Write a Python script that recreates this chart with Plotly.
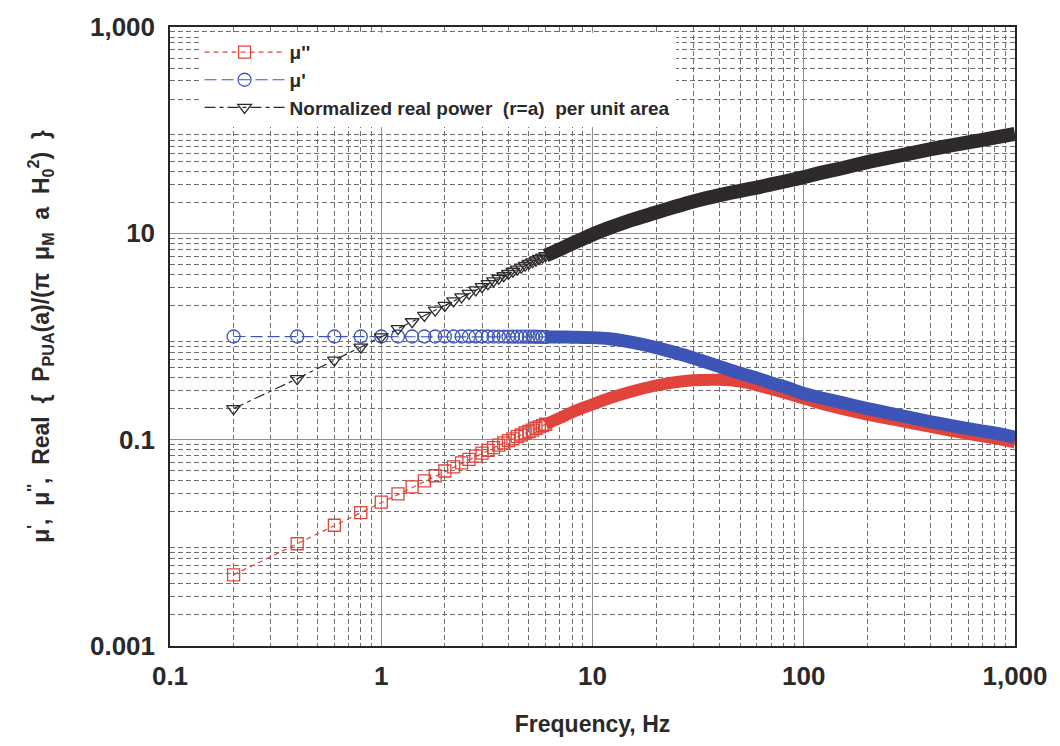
import plotly.graph_objects as go

# Frequencies (Hz) of the individually visible samples, 0.2 Hz apart
freq_markers = [0.2, 0.4, 0.6, 0.8, 1.0, 1.2, 1.4, 1.6, 1.8, 2.0,
                2.2, 2.4, 2.6, 2.8, 3.0, 3.2, 3.4, 3.6, 3.8, 4.0,
                4.2, 4.4, 4.6, 4.8, 5.0, 5.2, 5.4, 5.6, 5.8, 6.0]
# mu'' (loss component)
mu_loss_markers = [0.0049, 0.0098, 0.0148, 0.0196, 0.0248, 0.0298, 0.0348, 0.0398, 0.0447, 0.0497,
                   0.0546, 0.0595, 0.0644, 0.0692, 0.074, 0.0788, 0.0836, 0.0884, 0.093, 0.0977,
                   0.102, 0.107, 0.111, 0.116, 0.120, 0.124, 0.129, 0.133, 0.137, 0.141]
# mu' (real component)
mu_real_markers = [1.0, 1.0, 1.0, 1.0, 1.0, 1.0, 1.0, 1.0, 1.0, 1.0,
                   1.0, 1.0, 1.0, 1.0, 1.0, 1.0, 0.999, 0.999, 0.999, 0.998,
                   0.998, 0.997, 0.997, 0.996, 0.996, 0.995, 0.994, 0.993, 0.992, 0.99]
# normalized real power per unit area
power_markers = [0.2, 0.39, 0.59, 0.79, 0.99, 1.19, 1.39, 1.6, 1.8, 2.0,
                 2.21, 2.42, 2.62, 2.83, 3.04, 3.25, 3.46, 3.67, 3.88, 4.08,
                 4.29, 4.5, 4.7, 4.9, 5.1, 5.3, 5.5, 5.7, 5.88, 6.08]

# Above ~6 Hz the samples merge into a continuous band
freq_band = [6, 7, 8, 9, 10, 12, 15, 20, 25, 30, 40, 50, 60, 70, 85,
             100, 120, 150, 200, 250, 300, 400, 500, 600, 800, 1000]
mu_loss_band = [0.141, 0.162, 0.184, 0.203, 0.22, 0.252, 0.29, 0.335, 0.362, 0.376, 0.38, 0.365, 0.338, 0.31, 0.277,
                0.25, 0.224, 0.2, 0.175, 0.16, 0.149, 0.133, 0.122, 0.114, 0.103, 0.094]
mu_real_band = [0.99, 0.99, 0.985, 0.98, 0.975, 0.95, 0.885, 0.78, 0.69, 0.62, 0.51, 0.44, 0.395, 0.355, 0.315,
                0.28, 0.255, 0.23, 0.2, 0.182, 0.168, 0.149, 0.137, 0.128, 0.116, 0.106]
power_band = [6.08, 7.0, 7.95, 8.85, 9.75, 11.3, 13.3, 15.9, 18.3, 20.4, 23.5, 25.8, 27.8, 29.8, 32.5,
              35, 38.5, 42.5, 49, 53.8, 58, 65.5, 71.2, 76, 84.5, 92]

x_tick_values = [0.1, 1, 10, 100, 1000]
x_tick_labels = ["0.1", "1", "10", "100", "1,000"]
y_tick_values = [0.001, 0.1, 10, 1000]
y_tick_labels = ["0.001", "0.1", "10", "1,000"]
y_unlabelled_decades = [0.01, 1, 100]

series = [
    dict(name="μ''", color="#e0443a", symbol="square-open", size=12,
         dash="5px,4px", markers=mu_loss_markers, band=mu_loss_band, band_width=12),
    dict(name="μ'", color="#3d55b6", symbol="circle-open", size=13,
         dash="12px,5px", markers=mu_real_markers, band=mu_real_band, band_width=13),
    dict(name="Normalized real power  (r=a)  per unit area", color="#2f2a2a",
         symbol="triangle-down-open", size=12, dash="11px,4px,4px,4px",
         markers=power_markers, band=power_band, band_width=14),
]

fig = go.Figure()
for s in series:
    fig.add_trace(go.Scatter(
        x=freq_band, y=s["band"], mode="lines",
        line=dict(color=s["color"], width=s["band_width"], shape="spline", smoothing=0.5),
        showlegend=False, hoverinfo="skip"))
    fig.add_trace(go.Scatter(
        x=freq_markers, y=s["markers"], mode="lines+markers", name=s["name"],
        line=dict(color=s["color"], width=1.2, dash=s["dash"]),
        marker=dict(symbol=s["symbol"], size=s["size"], color=s["color"],
                    line=dict(color=s["color"], width=1.3))))

minor_vals = [m * 10.0 ** e for e in range(-3, 3) for m in range(2, 10)]
font_family = "Liberation Sans, Arial, Helvetica, sans-serif"
grid_major = "#8f8f8f"

axis_common = dict(
    type="log", showline=True, mirror=True, linecolor="#262626", linewidth=1.5,
    showgrid=True, gridcolor=grid_major, gridwidth=1, ticks="", zeroline=False,
    tickfont=dict(family=font_family, size=26, color="#2a2a2a", weight="bold"),
    minor=dict(tickmode="array", tickvals=minor_vals, showgrid=True,
               gridcolor="#707070", gridwidth=0.8, griddash="5px,3px", ticks=""),
)

y_title = ("μ<sup>'</sup>,\u00a0 μ<sup>''</sup>,\u00a0 Real\u00a0 {\u00a0 P<sub>PUA</sub>(a)/(π\u00a0 "
           "μ<sub>M</sub>\u00a0 a\u00a0 H<sub>0</sub><sup>2</sup>)\u00a0 }")

fig.update_layout(
    width=1060, height=746, autosize=False,
    margin=dict(l=170, r=44, t=22, b=100),
    paper_bgcolor="white", plot_bgcolor="white",
    font=dict(family=font_family, color="#2a2a2a"),
    xaxis=dict(axis_common, range=[-1, 3], tickmode="array",
               tickvals=x_tick_values, ticktext=x_tick_labels, ticklabelstandoff=6,
               title=dict(text="Frequency, Hz", standoff=26,
                          font=dict(family=font_family, size=23, weight="bold"))),
    yaxis=dict(axis_common, range=[-3, 3], tickmode="array",
               tickvals=y_tick_values, ticktext=y_tick_labels, ticklabelstandoff=8,
               title=dict(text=y_title, standoff=34,
                          font=dict(family=font_family, size=23, weight="bold"))),
    # solid decade lines that carry no label
    yaxis2=dict(type="log", range=[-3, 3], overlaying="y", side="left",
                tickmode="array", tickvals=y_unlabelled_decades, showticklabels=False,
                ticks="", showgrid=True, gridcolor=grid_major, gridwidth=1,
                showline=False, zeroline=False),
    legend=dict(x=0.035, y=0.99, xanchor="left", yanchor="top",
                bgcolor="white", borderwidth=0, itemwidth=80, tracegroupgap=0,
                font=dict(family=font_family, size=19, color="#2a2a2a", weight="bold")),
)

fig.write_html("out.html")
